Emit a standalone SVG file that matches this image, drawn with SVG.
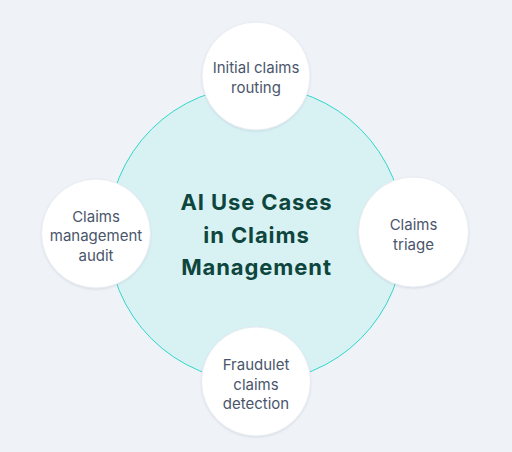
<svg xmlns="http://www.w3.org/2000/svg" width="512" height="452" viewBox="0 0 512 452">
<defs>
<filter id="sh" x="-20%" y="-20%" width="140%" height="140%">
<feDropShadow dx="0" dy="1" stdDeviation="1.2" flood-color="#9aa6b8" flood-opacity="0.3"/>
</filter>
</defs>
<style>
.node{fill:#ffffff;stroke:#e8ecf1;stroke-width:1;filter:url(#sh)}
.lbl{font-family:Inter,"Noto Sans",sans-serif;font-size:15px;fill:#4a566b;text-anchor:middle}
.title{font-family:Inter,"Noto Sans",sans-serif;font-size:22px;font-weight:700;letter-spacing:0.9px;fill:#0e463e;text-anchor:middle}
</style>
<rect width="512" height="452" fill="#eff3f8"/>
<g id="hub">
<circle cx="256" cy="234" r="148" fill="#d8f2f4" stroke="#2fd6c9" stroke-width="1"/>
<text class="title" x="256.5" y="210">AI Use Cases</text>
<text class="title" x="256.5" y="243">in Claims</text>
<text class="title" x="256.5" y="275">Management</text>
</g>
<g id="connectors"></g>
<g id="n-top">
<circle class="node" cx="256" cy="76" r="54"/>
<text class="lbl" x="256" y="73">Initial claims</text>
<text class="lbl" x="256" y="93">routing</text>
</g>
<g id="n-left">
<circle class="node" cx="96" cy="233.5" r="54.5"/>
<text class="lbl" x="96" y="221.5">Claims</text>
<text class="lbl" x="96" y="241">management</text>
<text class="lbl" x="96" y="260.5">audit</text>
</g>
<g id="n-right">
<circle class="node" cx="413.5" cy="232" r="55"/>
<text class="lbl" x="413.5" y="230">Claims</text>
<text class="lbl" x="413.5" y="249.5">triage</text>
</g>
<g id="n-bottom">
<circle class="node" cx="256" cy="381.5" r="54.5"/>
<text class="lbl" x="256" y="370">Fraudulet</text>
<text class="lbl" x="256" y="389.5">claims</text>
<text class="lbl" x="256" y="409">detection</text>
</g>
</svg>
